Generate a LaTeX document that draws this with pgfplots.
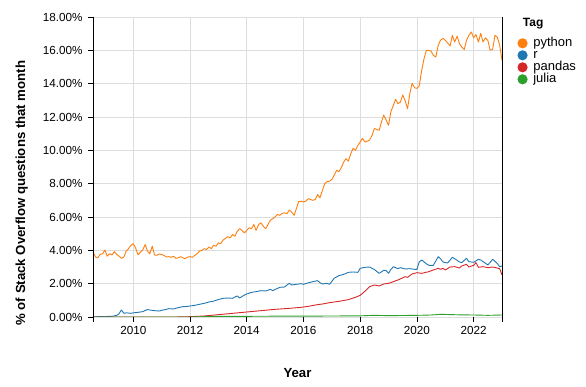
\documentclass[border=0pt]{standalone}
\usepackage{fontspec}
\setmainfont{Liberation Sans}
\usepackage{pgfplots}
\pgfplotsset{compat=1.18}
\definecolor{cpy}{HTML}{FF7F0E}
\definecolor{cr}{HTML}{1F77B4}
\definecolor{cpd}{HTML}{D62728}
\definecolor{cjl}{HTML}{2CA02C}
\definecolor{gridc}{HTML}{DDDDDD}
\begin{document}
\begin{tikzpicture}
\useasboundingbox (-93pt,-70pt) rectangle (493pt,317pt);
\begin{axis}[
  name=ax,
  scale only axis,
  width=409pt, height=300pt,
  xmin=2008.58, xmax=2023.0,
  ymin=0, ymax=18,
  xtick={2010,2012,2014,2016,2018,2020,2022},
  ytick={0,2,4,6,8,10,12,14,16,18},
  /pgf/number format/assume math mode=true,
  x tick label style={/pgf/number format/1000 sep={}, font=\fontsize{11.7}{12}\selectfont, yshift=-1pt},
  yticklabel={\pgfmathprintnumber[fixed,fixed zerofill,precision=2]{\tick}\%},
  y tick label style={font=\fontsize{11.7}{12}\selectfont, xshift=-2pt},
  axis line style={draw=none},
  xtick pos=bottom, ytick pos=left,
  tick align=outside,
  major tick length=5pt,
  tick style={black, line width=0.8pt},
  grid=major,
  major grid style={gridc, line width=0.8pt},
  xlabel={\textbf{Year}},
  ylabel={\textbf{\% of Stack Overflow questions that month}},
  label style={font=\fontsize{13.2}{14}\selectfont},
  xlabel style={at={(axis description cs:0.5,-0.1857)}, anchor=center},
  ylabel style={at={(axis description cs:-0.1743,0.413)}, anchor=center},
  legend image code/.code={\fill[#1] (0pt,0pt) circle (4.6pt); \path[draw=none, fill=none] (-4.6pt,-4.6pt) rectangle (10.8pt,4.6pt);},
  legend cell align=left,
  legend style={at={(rel axis cs:1.0379,0.9323)}, anchor=north west, draw=none, fill=none,
    inner sep=0pt, outer sep=0pt, row sep=0pt,
    font=\fontsize{13}{13}\selectfont,
    nodes={inner sep=0pt, text height=9.5pt, text depth=2.5pt}},
  every axis plot/.append style={line width=0.9pt, mark=none, line join=round},
]
\addplot[cpy] table {
2008.58 3.9
2008.67 3.6
2008.75 3.55
2008.83 3.75
2008.92 3.8
2009.0 4.02
2009.08 3.65
2009.17 3.8
2009.25 3.72
2009.33 3.92
2009.42 3.75
2009.5 3.65
2009.58 3.52
2009.67 3.6
2009.75 3.95
2009.83 4.1
2009.92 4.3
2010.0 4.4
2010.08 4.15
2010.17 3.72
2010.25 3.9
2010.33 4.0
2010.42 4.35
2010.5 3.95
2010.58 3.8
2010.67 4.25
2010.75 3.72
2010.83 3.7
2010.92 3.78
2011.0 3.75
2011.08 3.7
2011.17 3.6
2011.25 3.62
2011.33 3.58
2011.42 3.65
2011.5 3.52
2011.58 3.55
2011.67 3.62
2011.75 3.55
2011.83 3.5
2011.92 3.6
2012.0 3.62
2012.08 3.58
2012.17 3.7
2012.25 3.8
2012.33 3.95
2012.42 4.0
2012.5 4.1
2012.58 4.05
2012.67 4.2
2012.75 4.1
2012.83 4.3
2012.92 4.25
2013.0 4.45
2013.08 4.4
2013.17 4.62
2013.25 4.72
2013.33 4.82
2013.42 4.75
2013.5 4.95
2013.58 4.85
2013.67 5.15
2013.75 5.3
2013.83 5.2
2013.92 5.05
2014.0 5.2
2014.08 5.35
2014.17 5.3
2014.25 5.55
2014.33 5.2
2014.42 5.55
2014.5 5.65
2014.58 5.45
2014.67 5.3
2014.75 5.55
2014.83 5.8
2014.92 5.9
2015.0 6.0
2015.08 6.15
2015.17 6.1
2015.25 6.22
2015.33 6.25
2015.42 6.2
2015.5 6.42
2015.58 6.3
2015.67 6.1
2015.75 6.5
2015.83 6.92
2015.92 6.95
2016.0 6.9
2016.08 6.95
2016.17 7.1
2016.25 7.05
2016.33 7.0
2016.42 7.05
2016.5 7.35
2016.58 7.15
2016.67 7.6
2016.75 8.0
2016.83 8.12
2016.92 8.15
2017.0 8.25
2017.08 8.5
2017.17 8.8
2017.25 8.72
2017.33 8.95
2017.42 9.3
2017.5 9.5
2017.58 9.35
2017.67 9.8
2017.75 10.12
2017.83 10.0
2017.92 10.3
2018.0 10.5
2018.08 10.72
2018.17 10.5
2018.25 10.55
2018.33 10.62
2018.42 10.9
2018.5 11.32
2018.58 11.25
2018.67 11.2
2018.75 11.7
2018.83 12.12
2018.92 11.8
2019.0 11.5
2019.08 12.3
2019.17 12.7
2019.25 13.06
2019.33 12.8
2019.42 12.9
2019.5 13.32
2019.58 13.0
2019.67 12.5
2019.75 13.4
2019.83 14.02
2019.92 13.75
2020.0 13.72
2020.08 13.85
2020.17 14.8
2020.25 15.5
2020.33 15.98
2020.42 16.0
2020.5 15.95
2020.58 15.7
2020.67 15.6
2020.75 16.3
2020.83 16.6
2020.92 16.72
2021.0 16.6
2021.08 16.45
2021.17 16.26
2021.25 16.9
2021.33 16.5
2021.42 16.85
2021.5 16.4
2021.58 16.2
2021.67 16.05
2021.75 16.6
2021.83 16.9
2021.92 17.1
2022.0 16.75
2022.08 16.95
2022.17 16.5
2022.25 17.02
2022.33 16.5
2022.42 16.75
2022.5 16.6
2022.58 16.02
2022.67 16.05
2022.75 16.9
2022.83 16.8
2022.92 16.3
2023.0 15.4
};
\addlegendentry{python}
\addplot[cr] table {
2008.58 0.0
2008.75 0.02
2009.0 0.03
2009.25 0.04
2009.42 0.1
2009.5 0.2
2009.58 0.42
2009.67 0.22
2009.75 0.25
2009.92 0.22
2010.0 0.25
2010.17 0.28
2010.33 0.32
2010.5 0.45
2010.58 0.42
2010.75 0.38
2010.92 0.36
2011.0 0.4
2011.17 0.46
2011.25 0.5
2011.42 0.48
2011.58 0.56
2011.75 0.62
2011.92 0.64
2012.0 0.66
2012.17 0.7
2012.33 0.76
2012.5 0.82
2012.67 0.9
2012.83 0.95
2013.0 1.05
2013.17 1.12
2013.33 1.14
2013.5 1.12
2013.58 1.2
2013.67 1.26
2013.75 1.14
2013.92 1.32
2014.0 1.38
2014.17 1.48
2014.33 1.52
2014.5 1.58
2014.67 1.56
2014.83 1.66
2014.92 1.58
2015.0 1.65
2015.17 1.78
2015.33 1.8
2015.5 2.02
2015.58 1.92
2015.75 1.96
2015.92 2.0
2016.0 1.96
2016.17 2.05
2016.33 2.12
2016.5 2.18
2016.58 2.06
2016.67 1.98
2016.83 2.02
2016.92 1.96
2017.08 2.32
2017.25 2.48
2017.42 2.56
2017.58 2.68
2017.75 2.7
2017.92 2.68
2018.0 2.92
2018.17 2.98
2018.33 3.0
2018.5 2.85
2018.67 2.62
2018.83 2.8
2018.92 2.78
2019.0 2.62
2019.08 2.85
2019.17 3.02
2019.33 2.9
2019.42 2.96
2019.58 2.88
2019.75 2.9
2019.92 2.86
2020.0 2.85
2020.08 3.3
2020.17 3.42
2020.33 3.2
2020.42 3.1
2020.58 3.1
2020.75 3.62
2020.83 3.5
2020.92 3.3
2021.08 3.24
2021.25 3.58
2021.33 3.5
2021.5 3.3
2021.58 3.26
2021.75 3.52
2021.83 3.32
2022.0 3.28
2022.17 3.46
2022.25 3.42
2022.42 3.22
2022.5 3.12
2022.67 3.46
2022.83 3.22
2022.92 3.02
2023.0 3.06
};
\addlegendentry{r}
\addplot[cpd] table {
2008.58 0.0
2011.5 0.0
2012.0 0.02
2012.5 0.06
2013.0 0.14
2013.5 0.22
2014.0 0.3
2014.5 0.38
2015.0 0.46
2015.5 0.52
2015.92 0.58
2016.17 0.64
2016.42 0.72
2016.67 0.78
2016.92 0.86
2017.25 0.94
2017.58 1.04
2017.83 1.18
2018.0 1.3
2018.17 1.55
2018.33 1.82
2018.5 1.92
2018.67 1.86
2018.83 1.98
2019.0 2.02
2019.17 2.12
2019.33 2.22
2019.5 2.35
2019.58 2.42
2019.67 2.38
2019.83 2.58
2020.0 2.66
2020.17 2.62
2020.42 2.72
2020.58 2.82
2020.75 2.92
2020.83 2.86
2020.92 2.92
2021.0 2.82
2021.17 3.0
2021.33 3.02
2021.5 2.94
2021.58 3.06
2021.75 3.16
2021.83 3.0
2022.0 3.1
2022.08 3.26
2022.17 2.98
2022.33 3.02
2022.5 2.96
2022.67 3.0
2022.83 2.94
2022.92 2.9
2023.0 2.52
};
\addlegendentry{pandas}
\addplot[cjl] table {
2008.58 0.0
2012.0 0.0
2012.5 0.02
2013.0 0.04
2014.0 0.04
2015.0 0.05
2016.0 0.05
2017.0 0.06
2018.0 0.07
2018.5 0.1
2019.0 0.08
2019.5 0.09
2020.0 0.1
2020.5 0.12
2020.83 0.16
2021.5 0.13
2022.0 0.12
2022.5 0.1
2023.0 0.12
};
\addlegendentry{julia}
\end{axis}
\draw[black, line width=0.8pt] (ax.north west) -- ([yshift=-5pt]ax.south west);
\draw[black, line width=0.8pt] (ax.north east) -- ([yshift=-5pt]ax.south east);
\node[anchor=west, inner sep=0pt, font=\fontsize{12}{12}\selectfont\bfseries] at ([xshift=429.7pt,yshift=-6.3pt]ax.north west) {Tag};
\end{tikzpicture}
\end{document}
